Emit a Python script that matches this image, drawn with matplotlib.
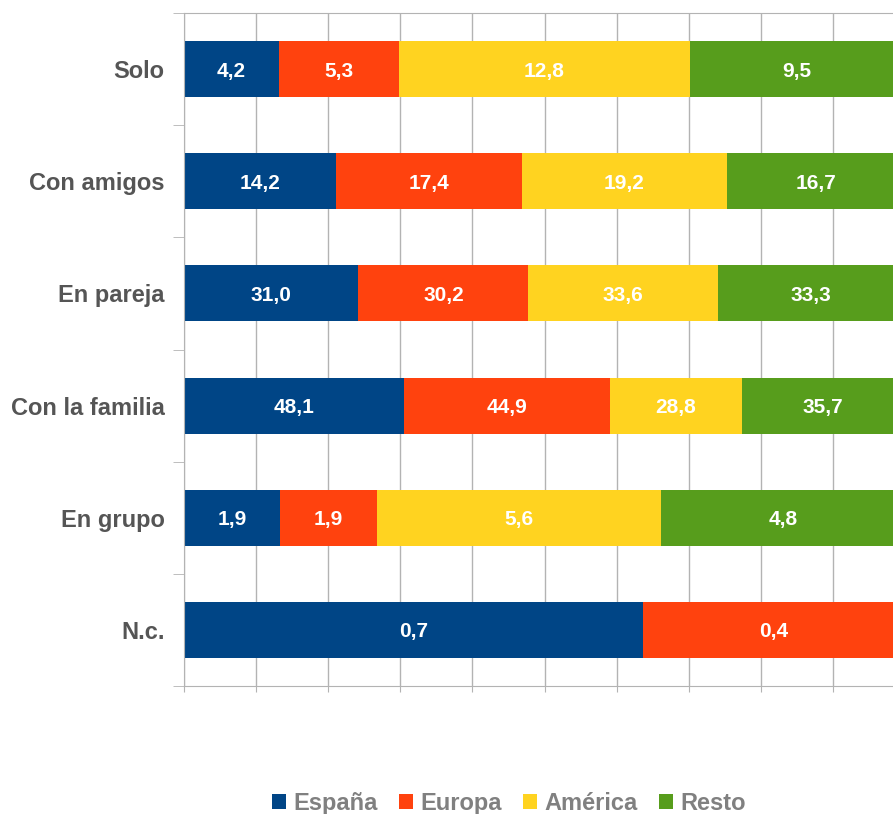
import numpy as np
import matplotlib
matplotlib.use('Agg')
import matplotlib.pyplot as plt

plt.rcParams['font.family'] = ['Liberation Sans', 'DejaVu Sans']

categories = ['Solo', 'Con amigos', 'En pareja', 'Con la familia', 'En grupo', 'N.c.']
series = ['España', 'Europa', 'América', 'Resto']
espana = [4.2, 14.2, 31.0, 48.1, 1.9, 0.7]
europa = [5.3, 17.4, 30.2, 44.9, 1.9, 0.4]
america = [12.8, 19.2, 33.6, 28.8, 5.6, 0.0]
resto = [9.5, 16.7, 33.3, 35.7, 4.8, 0.0]
colors = ['#004586', '#ff420e', '#ffd320', '#579d1c']

values = np.array([espana, europa, america, resto])
totals = values.sum(axis=0)
pct = values / totals * 100

fig = plt.figure(figsize=(8.93, 8.14), dpi=100)
ax = fig.add_axes([184 / 893, 128 / 814, 721 / 893, 673 / 814])

y = np.arange(len(categories))
left = np.zeros(len(categories))
for i, name in enumerate(series):
	ax.barh(y, pct[i], left=left, height=0.5, color=colors[i], label=name, zorder=2)
	for j in range(len(categories)):
		if values[i, j] > 0:
			ax.text(left[j] + pct[i, j] / 2, y[j], '{:.1f}'.format(values[i, j]).replace('.', ','),
					ha='center', va='center_baseline', color='white', fontsize=15, fontweight='bold', zorder=3)
	left += pct[i]

ax.set_xlim(0, 100)
ax.set_ylim(len(categories) - 0.5, -0.5)
ax.set_xticks(np.arange(0, 101, 10))
ax.set_xticklabels([])
ax.tick_params(axis='x', length=4, color='#b3b3b3')
ax.set_yticks(y)
ax.set_yticklabels(categories, fontsize=17, fontweight='bold', color='#555555')
ax.set_yticks(np.arange(-0.5, len(categories), 1), minor=True)
ax.tick_params(axis='y', which='major', length=0, pad=14)
ax.tick_params(axis='y', which='minor', length=8, color='#b3b3b3')
ax.grid(axis='x', color='#b3b3b3', linewidth=1, zorder=0)
for s in ['top', 'bottom', 'left', 'right']:
	ax.spines[s].set_color('#b3b3b3')

fig.legend(loc='lower center', bbox_to_anchor=(0.57, -0.027), ncol=4, frameon=False,
		   handlelength=0.6, handleheight=0.6, handletextpad=0.3, columnspacing=0.9,
		   prop={'size': 17, 'weight': 'bold'}, labelcolor='#808080')

plt.savefig('out.png', dpi=100)
